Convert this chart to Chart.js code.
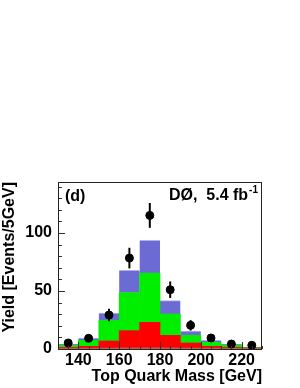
<!DOCTYPE html>
<html>
<head>
<meta charset="utf-8">
<script src="https://cdn.jsdelivr.net/npm/chart.js@4"></script>
<style>
  html, body { margin: 0; padding: 0; background: #ffffff; }
  #wrap { width: 300px; height: 388px; }
</style>
</head>
<body>
<div id="wrap"><canvas id="massChart" width="300" height="388"></canvas></div>
<script>
// bin centres (10 GeV bins from 130 to 230)
var binCentres = [135, 145, 155, 165, 175, 185, 195, 205, 215, 225];
// stacked components, bottom to top
var bkgBrown = [0.7, 0.7, 0.8, 0.9, 1.0, 0.9, 0.8, 0.7, 0.7, 0.7];
var bkgRed   = [0.7, 1.6, 6.1, 14.9, 22.0, 10.9, 4.4, 1.6, 0.7, 0.2];
var bkgGreen = [1.8, 5.2, 17.8, 32.8, 42.5, 18.4, 6.6, 3.4, 2.0, 0.5];
var sigBlue  = [1.1, 2.0, 6.3, 19.2, 28.2, 11.5, 3.7, 1.8, 0.9, 0.3];
// data points and their errors
var dataYield = [5.2, 9.2, 29.3, 78.4, 115.2, 51.1, 20.4, 9.5, 4.3, 3.2];
var dataErr   = [2.3, 3.0, 5.4, 8.9, 10.7, 7.1, 4.5, 3.1, 2.1, 1.8];
// tick labels
var xTickLabels = [140, 160, 180, 200, 220];
var yTickLabels = [0, 50, 100];

var FONT = '"Liberation Sans", Arial, sans-serif';

function pts(arr) {
    return arr.map(function (v, i) { return { x: binCentres[i], y: v }; });
}

function barSet(label, vals, color, border) {
    return {
        type: 'bar',
        label: label,
        data: pts(vals),
        backgroundColor: color,
        borderColor: border || color,
        borderWidth: border ? { top: 1 } : 0,
        barPercentage: 1,
        categoryPercentage: 1,
        stack: 'mc',
        order: 2
    };
}

// frame, inside ticks, error bars and labels
var extras = {
    id: 'extras',
    afterDatasetsDraw: function (chart) {
        var ctx = chart.ctx;
        var a = chart.chartArea;
        var xs = chart.scales.x;
        var ys = chart.scales.y;
        ctx.save();

        // error bars
        ctx.strokeStyle = '#000';
        ctx.lineWidth = 2;
        for (var i = 0; i < dataYield.length; i++) {
            var px = xs.getPixelForValue(binCentres[i]);
            ctx.beginPath();
            ctx.moveTo(px, ys.getPixelForValue(dataYield[i] - dataErr[i]));
            ctx.lineTo(px, ys.getPixelForValue(dataYield[i] + dataErr[i]));
            ctx.stroke();
        }

        // ticks inside the frame
        ctx.strokeStyle = '#333';
        ctx.lineWidth = 1;
        for (var v = 0; v <= 140; v += 10) {
            var py = Math.round(ys.getPixelForValue(v)) + 0.5;
            var len = (v % 50 === 0) ? 7 : 4;
            ctx.beginPath();
            ctx.moveTo(a.left, py);
            ctx.lineTo(a.left + len, py);
            ctx.stroke();
        }
        for (var m = 130; m <= 230; m += 5) {
            var tx = Math.round(xs.getPixelForValue(m)) + 0.5;
            var l2 = (m % 20 === 0) ? 7 : 3;
            ctx.beginPath();
            ctx.moveTo(tx, a.bottom);
            ctx.lineTo(tx, a.bottom - l2);
            ctx.stroke();
        }

        // frame
        ctx.strokeStyle = '#222';
        ctx.strokeRect(Math.round(a.left) + 0.5, Math.round(a.top) + 0.5,
            Math.round(a.right - a.left) - 1, Math.round(a.bottom - a.top));

        // texts
        ctx.fillStyle = '#000';
        ctx.textBaseline = 'alphabetic';
        ctx.font = 'bold 16px ' + FONT;
        ctx.textAlign = 'left';
        ctx.fillText('(d)', a.left + 7, a.top + 19);
        ctx.font = 'bold 10px ' + FONT;
        ctx.textAlign = 'right';
        ctx.fillText('-1', a.right - 4, a.top + 11);
        var supW = ctx.measureText('-1').width;
        ctx.font = 'bold 16px ' + FONT;
        ctx.fillText('D\u00D8,  5.4 fb', a.right - 5 - supW, a.top + 18);
        ctx.restore();
    }
};

var ctxMass = document.getElementById('massChart').getContext('2d');
var massChart = new Chart(ctxMass, {
    data: {
        datasets: [
            barSet('other', bkgBrown, '#b8645a'),
            barSet('red', bkgRed, '#ff0000'),
            barSet('green', bkgGreen, '#00ee00'),
            barSet('signal', sigBlue, '#6b6bd3', '#b0b0f0'),
            {
                type: 'scatter',
                label: 'data',
                data: pts(dataYield),
                backgroundColor: '#000',
                borderColor: '#000',
                pointRadius: 4,
                pointHoverRadius: 4,
                stack: 'pts',
                order: 1
            }
        ]
    },
    options: {
        responsive: false,
        animation: false,
        devicePixelRatio: 1,
        layout: { padding: { top: 182, right: 38, left: 0, bottom: 0 } },
        plugins: { legend: { display: false }, tooltip: { enabled: false } },
        scales: {
            x: {
                type: 'linear',
                min: 130,
                max: 230,
                offset: false,
                stacked: true,
                grid: { display: false, drawTicks: false },
                border: { display: false },
                afterBuildTicks: function (s) {
                    s.ticks = xTickLabels.map(function (v) { return { value: v }; });
                },
                afterFit: function (s) { s.height = 39; },
                ticks: {
                    autoSkip: false,
                    maxRotation: 0,
                    padding: 2,
                    color: '#000',
                    font: { family: FONT, size: 16, weight: 'bold' }
                },
                title: {
                    display: true,
                    text: 'Top Quark Mass [GeV]',
                    align: 'end',
                    color: '#000',
                    padding: { top: 0, bottom: 2 },
                    font: { family: FONT, size: 16, weight: 'bold' }
                }
            },
            y: {
                min: 0,
                max: 144,
                stacked: true,
                grid: { display: false, drawTicks: false },
                border: { display: false },
                afterBuildTicks: function (s) {
                    s.ticks = yTickLabels.map(function (v) { return { value: v }; });
                },
                afterFit: function (s) { s.width = 58; },
                ticks: {
                    padding: 6,
                    color: '#000',
                    font: { family: FONT, size: 16, weight: 'bold' }
                },
                title: {
                    display: true,
                    text: 'Yield [Events/5GeV]',
                    align: 'end',
                    color: '#000',
                    padding: { top: 0, bottom: 0 },
                    font: { family: FONT, size: 16, weight: 'bold' }
                }
            }
        }
    },
    plugins: [extras]
});
</script>
</body>
</html>
